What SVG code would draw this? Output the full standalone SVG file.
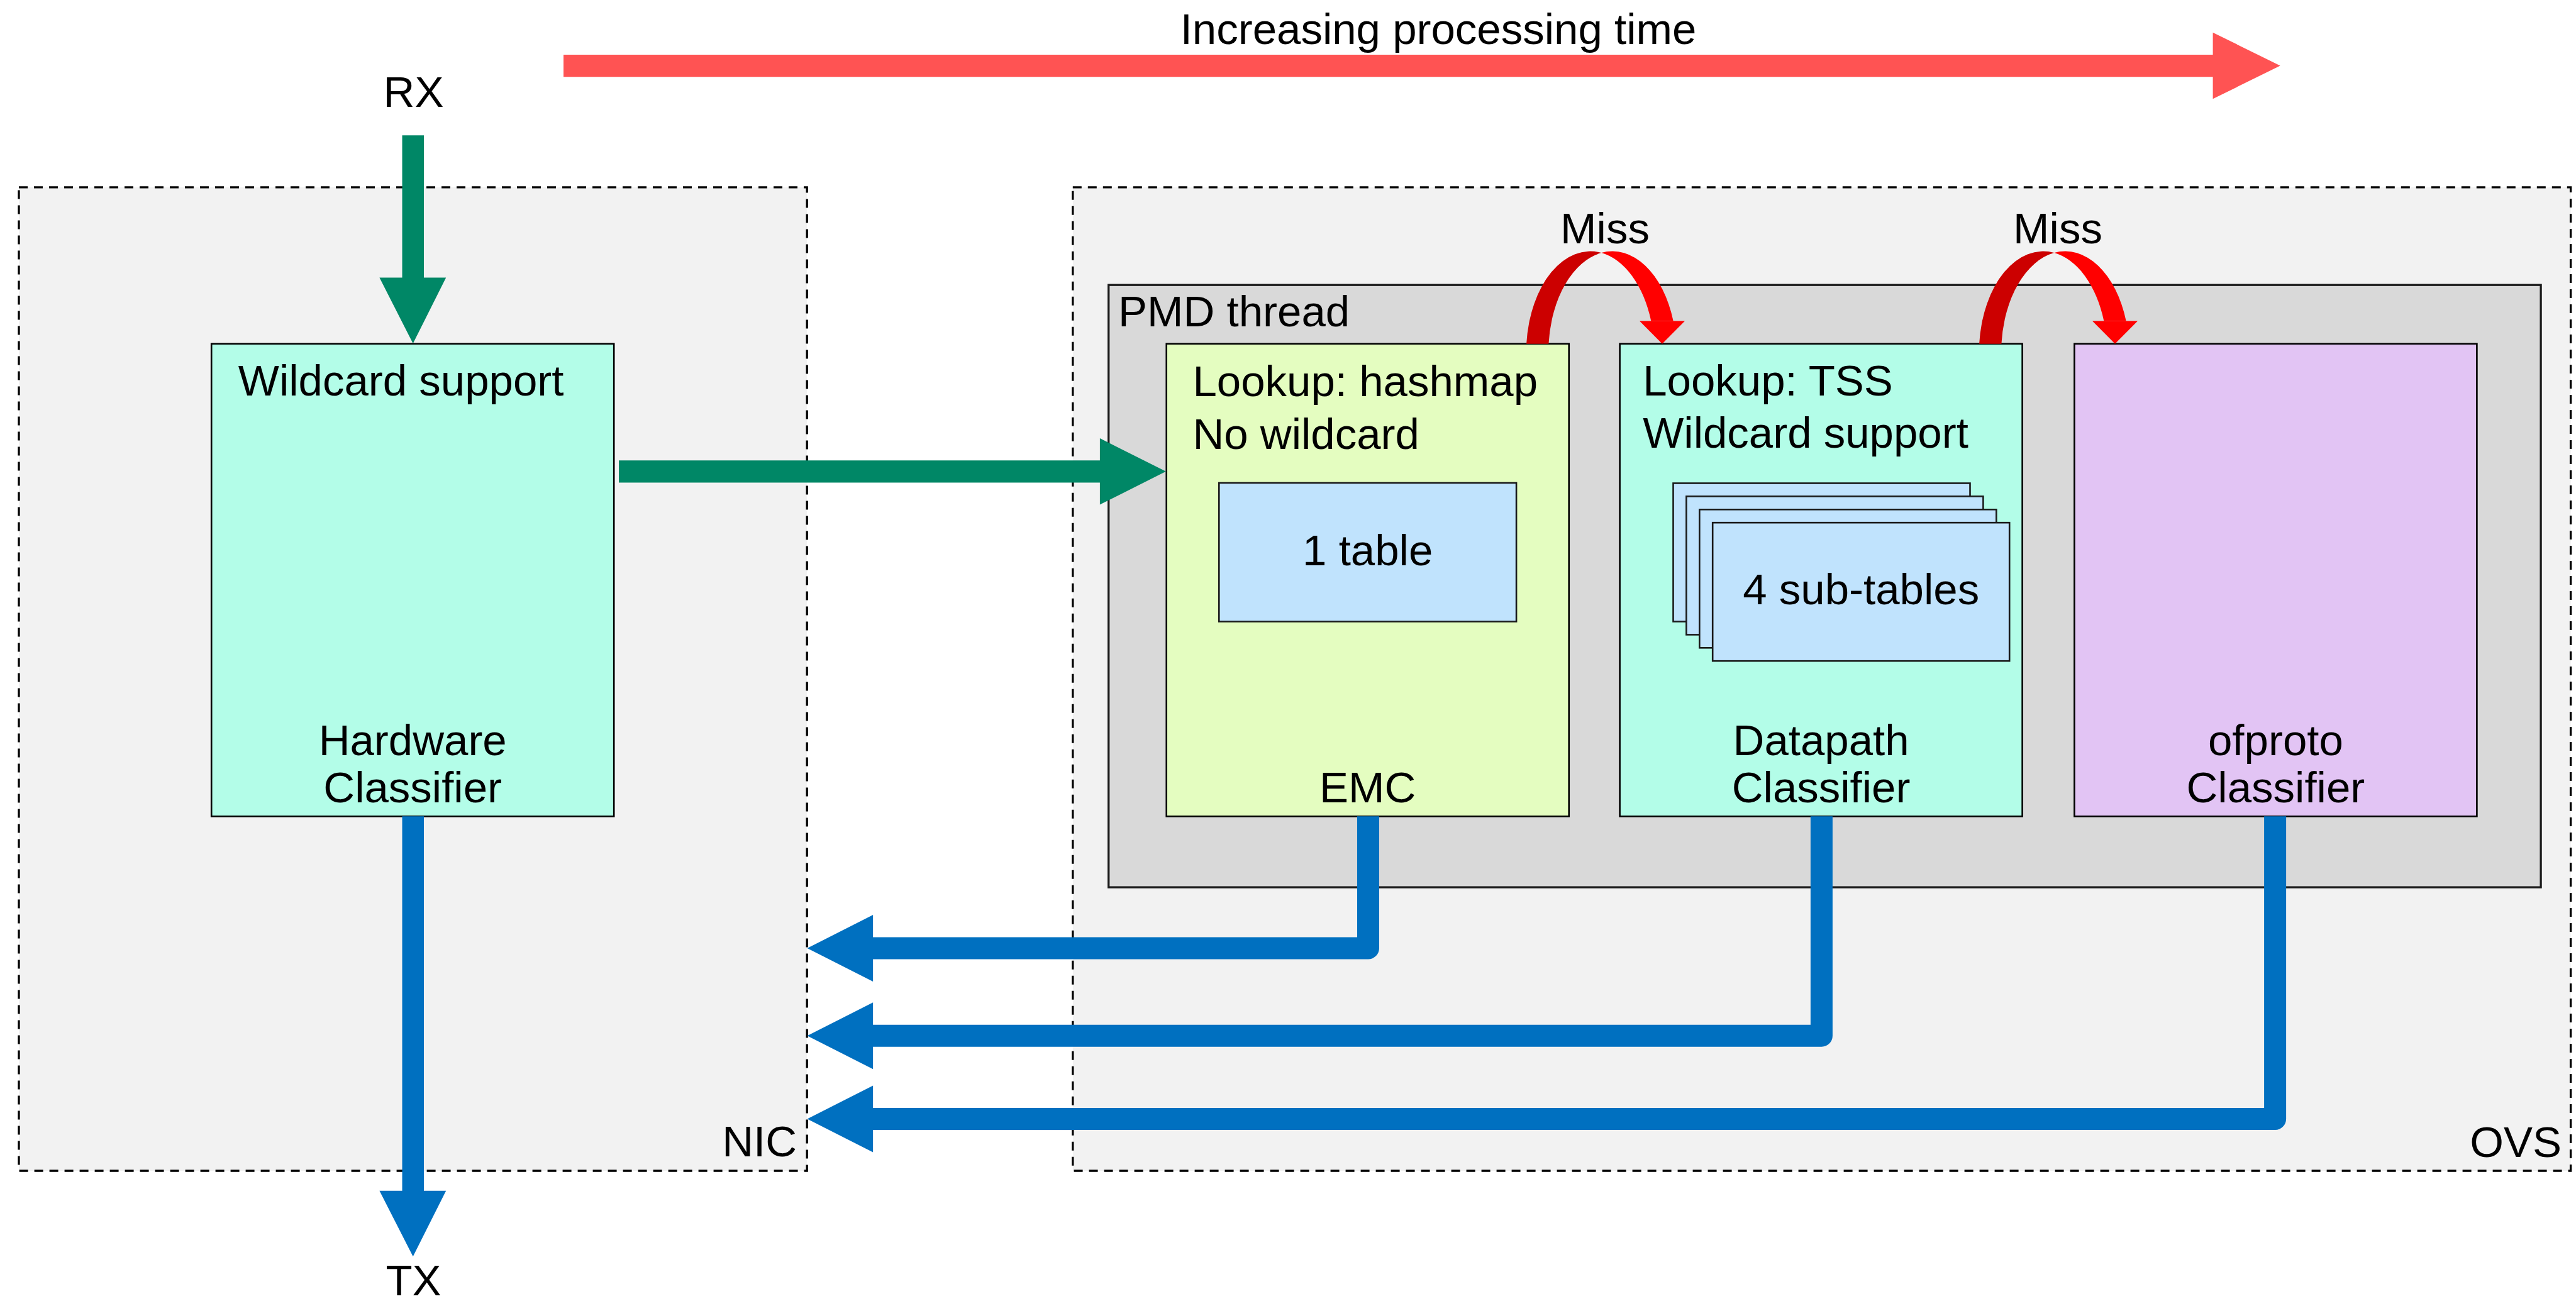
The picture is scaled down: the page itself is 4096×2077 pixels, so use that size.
<svg xmlns="http://www.w3.org/2000/svg" width="4096" height="2077" viewBox="0 0 4096 2077">
<style>
  text { font-family: "Liberation Sans", Arial, sans-serif; font-size: 69px; fill: #000; }
  .mid { text-anchor: middle; }
  .end { text-anchor: end; }
  .region { fill: #f2f2f2; stroke: #000; stroke-width: 3.3; stroke-dasharray: 14 10; }
  .pmd { fill: #d9d9d9; stroke: #1a1a1a; stroke-width: 3.3; }
  .node { stroke: #000; stroke-width: 2.6; }
  .aqua { fill: #b3fde8; }
  .lime { fill: #e4fdc0; }
  .lilac { fill: #e2c4f4; }
  .tbl { fill: #c0e3fd; stroke: #1a1a1a; stroke-width: 2.6; }
  .blue { fill: none; stroke: #0070c0; stroke-width: 35; stroke-linejoin: round; }
  .bluehead { fill: #0070c0; }
  .green { fill: #008766; }
  .dark { fill: #cc0000; }
  .bright { fill: #ff0000; }
</style>

<g id="nic">
  <rect class="region" x="30" y="297.8" width="1253.2" height="1564.2"/>
  <text class="end" x="1267" y="1839">NIC</text>
</g>
<g id="ovs">
  <rect class="region" x="1705.8" y="297.8" width="2381.8" height="1564.2"/>
  <text class="end" x="4073" y="1840">OVS</text>
</g>
<g id="pmd-thread">
  <rect class="pmd" x="1762.7" y="453.2" width="2277.4" height="957.9"/>
  <text x="1778" y="519">PMD thread</text>
</g>

<g id="hardware-classifier">
  <rect class="node aqua" x="336.2" y="546.7" width="640" height="751.6"/>
  <text x="378.8" y="629">Wildcard support</text>
  <text class="mid" x="656.2" y="1201">Hardware</text>
  <text class="mid" x="656.2" y="1275.5">Classifier</text>
</g>

<g id="emc">
  <rect class="node lime" x="1854.7" y="546.7" width="640" height="751.6"/>
  <text x="1896.5" y="630">Lookup: hashmap</text>
  <text x="1896.5" y="714">No wildcard</text>
  <rect class="tbl" x="1938.3" y="768" width="472.8" height="220.5"/>
  <text class="mid" x="2174.7" y="898.6">1 table</text>
  <text class="mid" x="2174.7" y="1275.5">EMC</text>
</g>

<g id="datapath-classifier">
  <rect class="node aqua" x="2575.6" y="546.7" width="640" height="751.6"/>
  <text x="2612.2" y="629">Lookup: TSS</text>
  <text x="2612.2" y="712">Wildcard support</text>
  <rect class="tbl" x="2660.5" y="768.5" width="472" height="220"/>
  <rect class="tbl" x="2681.4" y="789.4" width="472" height="220"/>
  <rect class="tbl" x="2702.3" y="810.3" width="472" height="220"/>
  <rect class="tbl" x="2723.2" y="831.2" width="472" height="220"/>
  <text class="mid" x="2959.2" y="961.3">4 sub-tables</text>
  <text class="mid" x="2895.6" y="1201">Datapath</text>
  <text class="mid" x="2895.6" y="1275.5">Classifier</text>
</g>

<g id="ofproto-classifier">
  <rect class="node lilac" x="3298.4" y="546.7" width="640" height="751.6"/>
  <text class="mid" x="3618.4" y="1201">ofproto</text>
  <text class="mid" x="3618.4" y="1275.5">Classifier</text>
</g>

<g id="rx-label"><text class="mid" x="657.5" y="170">RX</text></g>
<g id="tx-label"><text class="mid" x="657.5" y="2060">TX</text></g>

<g id="time-axis">
  <text class="mid" x="2287" y="69.5">Increasing processing time</text>
  <path fill="#ff5353" d="M896,87 L3518.6,87 L3518.6,51.7 L3625.7,104.5 L3518.6,157.3 L3518.6,122.3 L896,122.3 Z"/>
</g>

<g id="connectors">
  <!-- RX into hardware classifier -->
  <path class="green" d="M639.5,215.2 L674,215.2 L674,441.5 L709.2,441.5 L656.7,546.3 L603.4,441.5 L639.5,441.5 Z"/>
  <!-- hardware classifier to EMC -->
  <path class="green" d="M984,732.2 L1748.9,732.2 L1748.9,697 L1853.9,749.8 L1748.9,802.5 L1748.9,767.5 L984,767.5 Z"/>
  <!-- hardware classifier to TX -->
  <path class="bluehead" d="M639.5,1298.3 L674,1298.3 L674,1893.8 L709.2,1893.8 L656.7,1998.3 L603.4,1893.8 L639.5,1893.8 Z"/>

  <!-- return paths to NIC -->
  <path class="blue" d="M2175.5,1298.3 L2175.5,1508 L1386,1508"/>
  <path class="bluehead" d="M1388.1,1455 L1388.1,1561 L1283.6,1508 Z"/>
  <path class="blue" d="M2896.4,1298.3 L2896.4,1647.2 L1386,1647.2"/>
  <path class="bluehead" d="M1388.1,1594.2 L1388.1,1700.2 L1283.6,1647.2 Z"/>
  <path class="blue" d="M3617.6,1298.3 L3617.6,1779.5 L1386,1779.5"/>
  <path class="bluehead" d="M1388.1,1726.5 L1388.1,1832.5 L1283.6,1779.5 Z"/>

  <!-- Miss: EMC to Datapath -->
  <g id="miss-1">
    <path class="dark" d="M2427.1,546.7 A101.9 162 0 0 1 2546.25,402.05 A101.9 162 0 0 0 2462.4,546.7 Z"/>
    <path class="bright" d="M2546.25,402.05 A101.9 162 0 0 1 2660.6,510.4 L2625.3,510.4 A101.9 162 0 0 0 2546.25,402.05 Z"/>
    <path class="bright" d="M2607,510.4 L2679,510.4 L2643,546.7 Z"/>
    <text class="mid" x="2552" y="386.6">Miss</text>
  </g>
  <!-- Miss: Datapath to ofproto -->
  <g id="miss-2" transform="translate(720,0)">
    <path class="dark" d="M2427.1,546.7 A101.9 162 0 0 1 2546.25,402.05 A101.9 162 0 0 0 2462.4,546.7 Z"/>
    <path class="bright" d="M2546.25,402.05 A101.9 162 0 0 1 2660.6,510.4 L2625.3,510.4 A101.9 162 0 0 0 2546.25,402.05 Z"/>
    <path class="bright" d="M2607,510.4 L2679,510.4 L2643,546.7 Z"/>
    <text class="mid" x="2552" y="386.6">Miss</text>
  </g>
</g>
</svg>
